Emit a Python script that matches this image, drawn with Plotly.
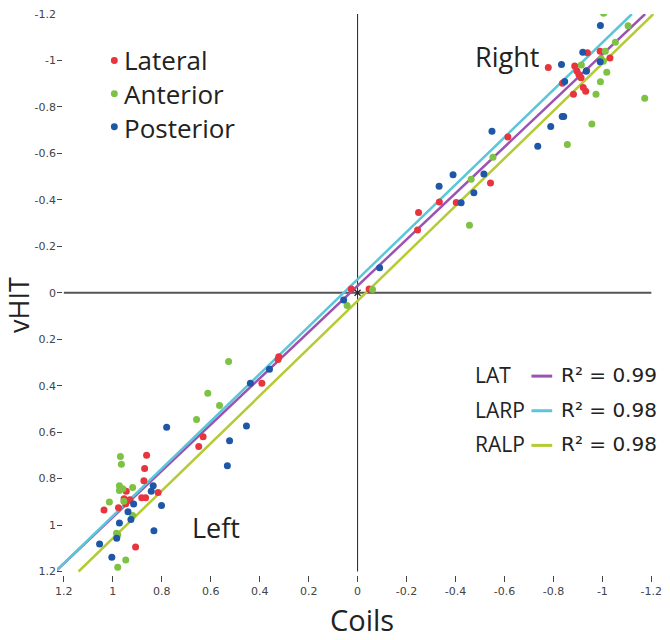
import plotly.graph_objects as go

# ---------------- data (Coils vs vHIT) ----------------
lat_x = [-0.779, -0.887, -0.939, -0.991, -1.031, -0.896, -0.904, -0.913, -0.936, -0.837,
         -0.882, -0.922, -0.932, -0.614, -0.543, -0.334, -0.403, -0.249, -0.245, 0.026,
         -0.047,
         0.862, 0.870, 0.873, 0.815, 0.945, 0.954, 0.936, 0.947, 0.930, 0.977,
         1.036, 0.882, 0.866, 0.907, 0.631, 0.649, 0.322, 0.325, 0.391]
lat_y = [-0.970, -0.976, -1.033, -1.040, -1.011, -0.955, -0.940, -0.926, -0.957, -0.902,
         -0.855, -0.884, -0.867, -0.671, -0.472, -0.391, -0.389, -0.346, -0.270, -0.016,
         -0.016,
         0.699, 0.756, 0.809, 0.860, 0.854, 0.887, 0.894, 0.908, 0.891, 0.925,
         0.935, 0.882, 0.882, 1.094, 0.620, 0.662, 0.275, 0.287, 0.390]

ant_x = [-1.005, -1.105, -1.053, -1.012, -0.995, -1.004, -1.018, -0.992, -0.974, -1.173,
         -0.957, -0.857, -0.914, -0.553, -0.464, -0.457, -0.061, 0.043,
         0.969, 0.965, 0.973, 0.973, 0.959, 0.919, 1.014, 0.955, 0.919, 0.985,
         0.980, 0.947, 0.980, 0.658, 0.564, 0.527, 0.612]
ant_y = [-1.203, -1.149, -1.078, -1.040, -1.007, -0.997, -0.949, -0.908, -0.855, -0.837,
         -0.726, -0.638, -0.980, -0.583, -0.489, -0.291, -0.014, 0.055,
         0.705, 0.738, 0.831, 0.851, 0.844, 0.838, 0.901, 0.898, 0.959, 1.035,
         1.042, 1.150, 1.182, 0.546, 0.485, 0.296, 0.433]

post_x = [-0.992, -0.833, -0.920, -0.934, -0.991, -0.846, -0.836, -0.842, -0.789, -0.736,
          -0.549, -0.390, -0.516, -0.333, -0.475, -0.423, -0.090, 0.057,
          0.780, 0.454, 0.523, 0.532, 0.835, 0.843, 0.801, 0.915, 0.938, 0.926,
          0.973, 0.832, 0.984, 1.054, 1.004, 0.360, 0.438]
post_y = [-1.150, -0.983, -1.035, -0.954, -0.994, -0.909, -0.759, -0.759, -0.716, -0.631,
          -0.695, -0.508, -0.511, -0.458, -0.430, -0.387, -0.108, 0.031,
          0.579, 0.574, 0.637, 0.745, 0.831, 0.855, 0.916, 0.909, 0.943, 0.976,
          0.991, 1.024, 1.057, 1.082, 1.139, 0.329, 0.390]

series_names = ["Lateral", "Anterior", "Posterior"]

fit_names = ["LAT", "LARP", "RALP"]
fit_slope = [0.996, 1.019, 1.022]
fit_intercept = [-0.030, -0.058, 0.035]
fit_r2 = ["0.99", "0.98", "0.98"]

x_tickvals = [1.2, 1.0, 0.8, 0.6, 0.4, 0.2, 0.0, -0.2, -0.4, -0.6, -0.8, -1.0, -1.2]
x_ticktext = ["1.2", "1", "0.8", "0.6", "0.4", "0.2", "0", "-0.2", "-0.4", "-0.6", "-0.8", "-1", "-1.2"]
y_tickvals = [-1.2, -1.0, -0.8, -0.6, -0.4, -0.2, 0.0, 0.2, 0.4, 0.6, 0.8, 1.0, 1.2]
y_ticktext = ["-1.2", "-1", "-0.8", "-0.6", "-0.4", "-0.2", "0", "0.2", "0.4", "0.6", "0.8", "1", "1.2"]

# ---------------- styling ----------------
series_colors = ["#e8353d", "#7dc243", "#1e57a7"]
fit_colors = ["#9c52b2", "#5ac6d8", "#b5ca33"]
TEXT_FONT = "Open Sans"
INK = "#222"

W, H = 670, 640
L, R, T, B = 57, 8, 8, 65
PW, PH = W - L - R, H - T - B


def xp(px):
    return (px - L) / PW


def yp(py):
    return (H - B - py) / PH


fig = go.Figure()

# regression lines (drawn first, below the points)
for name, m, c, col in zip(fit_names, fit_slope, fit_intercept, fit_colors):
    ys = [1.2, -1.2]
    xs = [(y - c) / m for y in ys]
    fig.add_trace(go.Scatter(x=xs, y=ys, mode="lines", name=name,
                             line=dict(color=col, width=2.5),
                             showlegend=False, hoverinfo="skip"))

for name, xs, ys, col in zip(series_names, [lat_x, ant_x, post_x], [lat_y, ant_y, post_y],
                             series_colors):
    fig.add_trace(go.Scatter(x=xs, y=ys, mode="markers", name=name, showlegend=False,
                             marker=dict(color=col, size=7, line=dict(width=0))))

# origin marker
fig.add_trace(go.Scatter(x=[0], y=[0], mode="markers", showlegend=False, hoverinfo="skip",
                         marker=dict(symbol="x-thin-open", size=6, color=INK,
                                     line=dict(width=1.2, color=INK))))

# axis cross
fig.add_shape(type="line", x0=0, x1=0, y0=-1.2, y1=1.2, xref="x", yref="y",
              line=dict(color=INK, width=1), layer="below")
fig.add_shape(type="line", x0=1.2, x1=-1.2, y0=0, y1=0, xref="x", yref="y",
              line=dict(color="#555", width=2), layer="below")

tick_font = dict(family="DejaVu Sans", size=11, color="#444")
fig.update_xaxes(range=[1.228, -1.215], tickvals=x_tickvals, ticktext=x_ticktext,
                 showgrid=False, zeroline=False, showline=False,
                 ticks="outside", ticklen=6, tickwidth=1, tickcolor="#444",
                 tickfont=tick_font)
fig.update_yaxes(range=[1.215, -1.2], tickvals=y_tickvals, ticktext=y_ticktext,
                 showgrid=False, zeroline=False, showline=False,
                 ticks="inside", ticklen=5, tickwidth=1, tickcolor="#444",
                 tickfont=tick_font)

ann = []
# axis titles
ann.append(dict(text="Coils", x=xp(366), y=yp(620), xref="paper", yref="paper",
                showarrow=False, font=dict(family=TEXT_FONT, size=29, color=INK),
                xanchor="center", yanchor="middle"))
ann.append(dict(text="vHIT", x=xp(18.6), y=yp(302), xref="paper", yref="paper",
                showarrow=False, textangle=-90,
                font=dict(family=TEXT_FONT, size=27, color=INK),
                xanchor="center", yanchor="middle"))
# quadrant labels
ann.append(dict(text="Right", x=xp(478), y=yp(51), xref="paper", yref="paper",
                showarrow=False, font=dict(family=TEXT_FONT, size=27, color=INK),
                xanchor="left", yanchor="middle"))
ann.append(dict(text="Left", x=xp(192), y=yp(527), xref="paper", yref="paper",
                showarrow=False, font=dict(family=TEXT_FONT, size=27, color=INK),
                xanchor="left", yanchor="middle"))

# series key (dots + one multi-line label), top left
key_y = [55, 88.5, 122]
for col, ky in zip(series_colors, key_y):
    fig.add_shape(type="circle", xref="paper", yref="paper",
                  x0=xp(111.5), x1=xp(118.5), y0=yp(ky - 3.5), y1=yp(ky + 3.5),
                  fillcolor=col, line=dict(width=0))
ann.append(dict(text="<br>".join(series_names), x=xp(123), y=yp(key_y[1]),
                xref="paper", yref="paper", showarrow=False, align="left",
                font=dict(family=TEXT_FONT, size=26, color=INK),
                xanchor="left", yanchor="middle"))

# fit key, lower right
row_y = [373, 408, 443]
for name, r2, col, ry in zip(fit_names, fit_r2, fit_colors, row_y):
    ann.append(dict(text=name, x=xp(478), y=yp(ry), xref="paper", yref="paper",
                    showarrow=False, font=dict(family=TEXT_FONT, size=21, color=INK),
                    xanchor="left", yanchor="middle"))
    ann.append(dict(text="R² = " + r2, x=xp(565), y=yp(ry), xref="paper", yref="paper",
                    showarrow=False, font=dict(family="DejaVu Sans", size=20, color=INK),
                    xanchor="left", yanchor="middle"))
    fig.add_shape(type="line", xref="paper", yref="paper",
                  x0=xp(537), x1=xp(558), y0=yp(ry + 1), y1=yp(ry + 1),
                  line=dict(color=col, width=3))

fig.update_layout(
    width=W, height=H,
    margin=dict(l=L, r=R, t=T, b=B),
    paper_bgcolor="white", plot_bgcolor="white",
    annotations=ann,
    showlegend=False,
)

fig.write_html("out.html", config={"displayModeBar": False},
               post_script="document.body.style.margin='0';document.body.style.overflow='hidden';")
